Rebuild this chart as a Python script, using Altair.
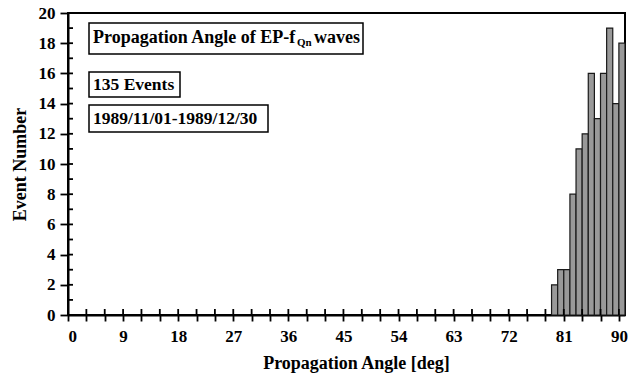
import altair as alt
import pandas as pd

# Histogram data (1-degree bins)
bin_start = [79, 80, 81, 82, 83, 84, 85, 86, 87, 88, 89, 90]
counts = [2, 3, 3, 8, 11, 12, 16, 13, 16, 19, 14, 18]
x_tick_values = list(range(0, 91, 3))
y_tick_values = list(range(0, 21, 2))
y_minor_values = list(range(1, 20))

title_main = "Propagation Angle of EP-f"
title_sub = "Qn"
title_end = "waves"
events_text = "135 Events"
date_text = "1989/11/01-1989/12/30"

W, H = 557, 302
FONT = "Liberation Serif"

df = pd.DataFrame({"start": bin_start, "end": [b + 1 for b in bin_start], "count": counts})
xscale = alt.Scale(domain=[0, 91], nice=False, zero=False)
yscale = alt.Scale(domain=[0, 20], nice=False)
xaxis = alt.Axis(values=x_tick_values, labelExpr="datum.value % 9 == 0 ? datum.label : ''",
                 labelOverlap=False, tickSize=6, labelPadding=7,
                 title="Propagation Angle [deg]", titlePadding=10, titleX=288)
yaxis = alt.Axis(values=y_tick_values, tickSize=8, labelPadding=5,
                 title="Event Number", titlePadding=9)

bars = alt.Chart(df).mark_bar(fill="#999999", stroke="#1a1a1a", strokeWidth=1.2).encode(
    x=alt.X("start:Q", scale=xscale, axis=xaxis),
    x2="end:Q",
    y=alt.Y("count:Q", scale=yscale, axis=yaxis, stack=None),
    y2=alt.datum(0),
)

xt = alt.Chart(pd.DataFrame({"v": x_tick_values})).mark_rule(color="black", strokeWidth=1.8).encode(
    x=alt.X("v:Q", scale=xscale, axis=xaxis), y=alt.value(H), y2=alt.value(H - 6))
yt = alt.Chart(pd.DataFrame({"v": y_minor_values})).mark_rule(color="black", strokeWidth=1.8).encode(
    y=alt.Y("v:Q", scale=yscale, axis=yaxis), x=alt.value(0), x2=alt.value(5))

one = pd.DataFrame({"a": [0]})

def box(x0, x1, y0, y1):
    return alt.Chart(one).mark_rect(fill="white", stroke="black", strokeWidth=1.5).encode(
        x=alt.value(x0), x2=alt.value(x1), y=alt.value(y0), y2=alt.value(y1))

def txt(s, x, y, size=18):
    return alt.Chart(one).mark_text(align="left", baseline="middle", font=FONT, fontWeight="bold",
                                    fontSize=size, color="black").encode(
        x=alt.value(x), y=alt.value(y), text=alt.value(s))

layers = [
    bars, xt, yt,
    box(21, 295, 10, 41), txt(title_main, 25, 25), txt(title_sub, 229, 30, 11), txt(title_end, 246, 25),
    box(21, 112, 59, 84), txt(events_text, 25, 72, 17.5),
    box(21, 200, 92, 119), txt(date_text, 25, 106, 17.5),
]

chart = alt.layer(*layers).properties(
    width=W, height=H,
    background="white",
    padding={"left": 68, "top": 13, "right": 16, "bottom": 70},
    autosize=alt.AutoSizeParams(type="none"),
).configure_axis(
    labelFont=FONT, labelFontWeight="bold", labelFontSize=17, labelColor="black",
    titleFont=FONT, titleFontWeight="bold", titleFontSize=18, titleColor="black",
    domainColor="black", domainWidth=2, tickColor="black", tickWidth=1.8, grid=False,
).configure_view(stroke="black", strokeWidth=2)

chart.save("out.html", embed_options={"renderer": "svg", "actions": False})
